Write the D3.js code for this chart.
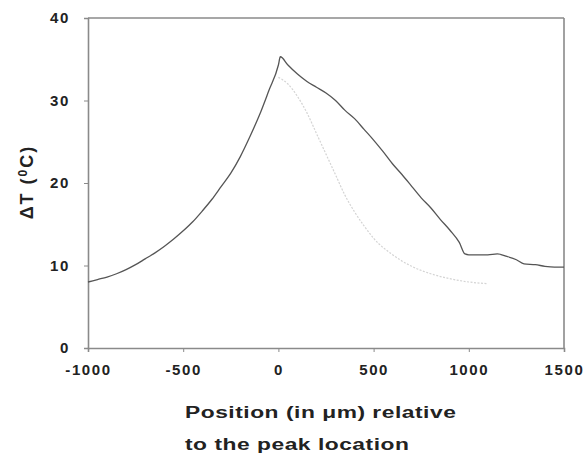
<!DOCTYPE html>
<html>
<head>
<meta charset="utf-8">
<script src="https://cdn.jsdelivr.net/npm/d3@7"></script>
<style>
  body { margin: 0; background: #fff; }
  svg text { font-family: "Liberation Sans", Arial, sans-serif; font-weight: bold; fill: #222; }
</style>
</head>
<body>
<svg id="chart"></svg>
<script>
var width = 586,
    height = 454,
    margin = {top: 18, right: 22, bottom: 106, left: 88};

// measured profile (dark line), position in um vs delta T
var measured_x = [-1000, -950, -900, -850, -800, -750, -700, -650, -600, -550, -500, -450, -400, -350, -300, -250, -200, -150, -100, -50, 0, 10,
                  50, 100, 150, 200, 250, 300, 350, 400, 450, 500, 550, 600, 650, 700, 750, 800, 850, 900, 950, 980,
                  1000, 1050, 1100, 1150, 1200, 1250, 1290, 1350, 1400, 1450, 1500];
var measured_y = [8.0, 8.3, 8.6, 9.0, 9.5, 10.1, 10.8, 11.5, 12.3, 13.2, 14.2, 15.3, 16.6, 18.0, 19.6, 21.2, 23.2, 25.6, 28.2, 31.2, 34.3, 35.3,
                  34.3, 33.2, 32.3, 31.6, 30.9, 30.0, 28.8, 27.8, 26.5, 25.2, 23.8, 22.3, 21.0, 19.6, 18.2, 17.0, 15.6, 14.3, 12.8, 11.4,
                  11.3, 11.3, 11.3, 11.4, 11.1, 10.7, 10.2, 10.1, 9.9, 9.8, 9.8];

// model profile (light line)
var model_x = [0, 50, 100, 150, 200, 250, 300, 350, 400, 450, 500, 600, 700, 800, 900, 1000, 1100];
var model_y = [32.8, 32.0, 30.5, 28.5, 26.0, 23.5, 21.0, 18.5, 16.5, 14.8, 13.3, 11.3, 9.9, 9.0, 8.4, 8.0, 7.8];

var x_ticks = [-1000, -500, 0, 500, 1000, 1500];
var y_ticks = [0, 10, 20, 30, 40];

var svg = d3.select("#chart").attr("width", width).attr("height", height);

var x = d3.scaleLinear().domain([-1000, 1500]).range([margin.left, width - margin.right]);
var y = d3.scaleLinear().domain([0, 40]).range([height - margin.bottom, margin.top]);

var axisColor = "#8a8a8a";

// frame (top and right)
svg.append("line")
  .attr("x1", x(-1000)).attr("x2", x(1500))
  .attr("y1", y(40)).attr("y2", y(40))
  .attr("stroke", axisColor).attr("stroke-width", 1.6);
svg.append("line")
  .attr("x1", x(1500)).attr("x2", x(1500))
  .attr("y1", y(40)).attr("y2", y(0))
  .attr("stroke", axisColor).attr("stroke-width", 1.6);

var plain = function(d) { return String(d); };

var xAxis = svg.append("g")
  .attr("transform", "translate(0," + y(0) + ")")
  .call(d3.axisBottom(x).tickValues(x_ticks).tickFormat(plain).tickSize(4).tickPadding(12));
var yAxis = svg.append("g")
  .attr("transform", "translate(" + x(-1000) + ",0)")
  .call(d3.axisLeft(y).tickValues(y_ticks).tickFormat(plain).tickSize(4).tickPadding(14));

[xAxis, yAxis].forEach(function(g) {
  g.select(".domain").attr("stroke", axisColor).attr("stroke-width", 1.6);
  g.selectAll(".tick line").attr("stroke", axisColor).attr("stroke-width", 1);
  g.selectAll(".tick text")
    .attr("fill", "#222")
    .style("font-size", "15px")
    .style("letter-spacing", "1.6px");
});

var line = d3.line()
  .x(function(d) { return x(d[0]); })
  .y(function(d) { return y(d[1]); })
  .curve(d3.curveMonotoneX);

svg.append("path")
  .datum(d3.zip(model_x, model_y))
  .attr("d", line)
  .attr("fill", "none")
  .attr("stroke", "#d4d4d4")
  .attr("stroke-width", 1.2)
  .attr("stroke-dasharray", "2,1.5");

svg.append("path")
  .datum(d3.zip(measured_x, measured_y))
  .attr("d", line)
  .attr("fill", "none")
  .attr("stroke", "#555")
  .attr("stroke-width", 1.3);

// axis titles (the original lettering is wide, so stretch it horizontally)
svg.append("text")
  .attr("transform", "translate(185,418) scale(1.34,1)")
  .style("font-size", "17px")
  .style("letter-spacing", "0.4px")
  .text("Position (in \u03bcm) relative");
svg.append("text")
  .attr("transform", "translate(185,450) scale(1.34,1)")
  .style("font-size", "17px")
  .style("letter-spacing", "0.4px")
  .text("to the peak location");

var yt = svg.append("text")
  .attr("transform", "translate(33,182) rotate(-90)")
  .attr("text-anchor", "middle")
  .style("font-size", "18px")
  .style("letter-spacing", "2px");
yt.append("tspan").text("\u0394T (");
yt.append("tspan").attr("dy", -6).style("font-size", "12px").text("0");
yt.append("tspan").attr("dy", 6).text("C)");
</script>
</body>
</html>
